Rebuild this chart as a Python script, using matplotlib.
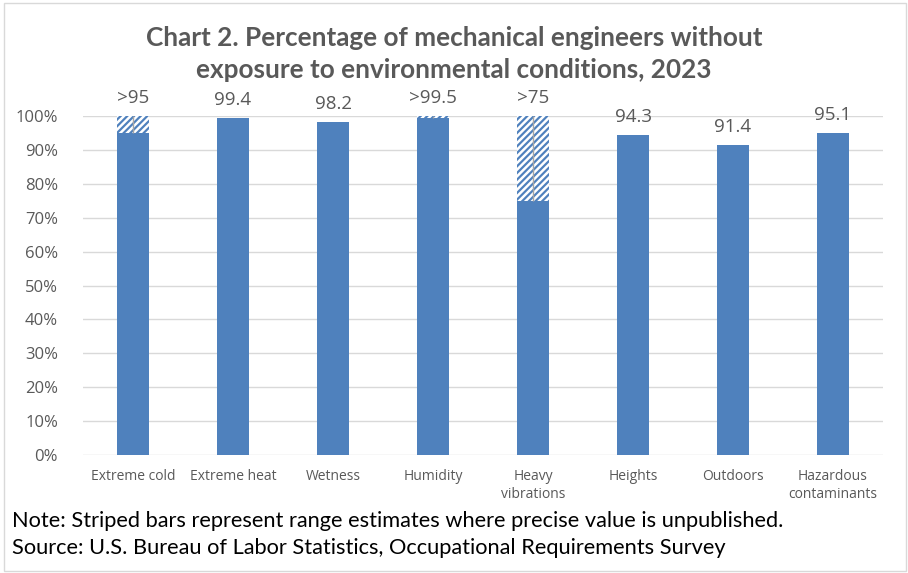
import numpy as np
import matplotlib.pyplot as plt
from matplotlib.patches import Rectangle

# data
categories = ["Extreme cold", "Extreme heat", "Wetness", "Humidity",
              "Heavy\nvibrations", "Heights", "Outdoors", "Hazardous\ncontaminants"]
solid_values = [95, 99.4, 98.2, 99.5, 75, 94.3, 91.4, 95.1]
range_upper = [100, None, None, 100, 100, None, None, None]
value_labels = [">95", "99.4", "98.2", ">99.5", ">75", "94.3", "91.4", "95.1"]

BLUE = "#4F81BD"
TEXT = "#595959"

plt.rcParams["hatch.linewidth"] = 1.8
plt.rcParams["hatch.color"] = "white"

fig = plt.figure(figsize=(9.08, 5.73), dpi=100)
fig.patches.append(Rectangle((0.004, 0.004), 0.994, 0.99, transform=fig.transFigure,
                             fill=False, edgecolor="#D9D9D9", linewidth=1))

ax = fig.add_axes([83 / 908, 1 - 455 / 573, 800 / 908, 339 / 573])

x = np.arange(len(categories))
width = 0.32
ax.bar(x, solid_values, width, color=BLUE, zorder=3)

tops = []
for i, (lo, hi) in enumerate(zip(solid_values, range_upper)):
    if hi is None:
        tops.append(lo)
        continue
    ax.bar(x[i], hi - lo, width, bottom=lo, color=BLUE, edgecolor="white",
           hatch="/////", linewidth=0, zorder=3)
    ax.vlines(x[i], lo, hi, color="#A6A6A6", linewidth=1, zorder=4)
    tops.append(hi)

for xi, top, lab in zip(x, tops, value_labels):
    ax.annotate(lab, (xi, top), xytext=(0, 6.5), textcoords="offset points",
                ha="center", va="bottom", fontsize=13.5, color=TEXT,
                family="Open Sans", annotation_clip=False)

ax.set_xlim(-0.5, len(categories) - 0.5)
ax.set_ylim(0, 100)
ax.set_yticks(np.arange(0, 101, 10))
ax.set_yticklabels([f"{v}%" for v in range(0, 101, 10)])
ax.set_xticks(x)
ax.set_xticklabels(categories, linespacing=1.3)
ax.tick_params(axis="y", length=0, pad=18, labelsize=12, labelcolor=TEXT)
ax.tick_params(axis="x", length=0, pad=10, labelsize=10, labelcolor=TEXT)
for lab in ax.get_xticklabels() + ax.get_yticklabels():
    lab.set_family("Open Sans")

ax.grid(axis="y", color="#D9D9D9", linewidth=1, zorder=0)
for s in ax.spines.values():
    s.set_visible(False)

fig.text(0.5, 1 - 38 / 573, "Chart 2. Percentage of mechanical engineers without",
         ha="center", va="center", fontsize=18.8, fontweight="bold", color=TEXT, family="Lato")
fig.text(0.5, 1 - 70 / 573, "exposure to environmental conditions, 2023",
         ha="center", va="center", fontsize=18.8, fontweight="bold", color=TEXT, family="Lato")

fig.text(12 / 908, 1 - 521 / 573,
         "Note: Striped bars represent range estimates where precise value is unpublished.",
         ha="left", va="center", fontsize=15.7, color="black", family="Lato")
fig.text(12 / 908, 1 - 548 / 573,
         "Source: U.S. Bureau of Labor Statistics, Occupational Requirements Survey",
         ha="left", va="center", fontsize=15.7, color="black", family="Lato")

fig.savefig("out.png", dpi=100)
